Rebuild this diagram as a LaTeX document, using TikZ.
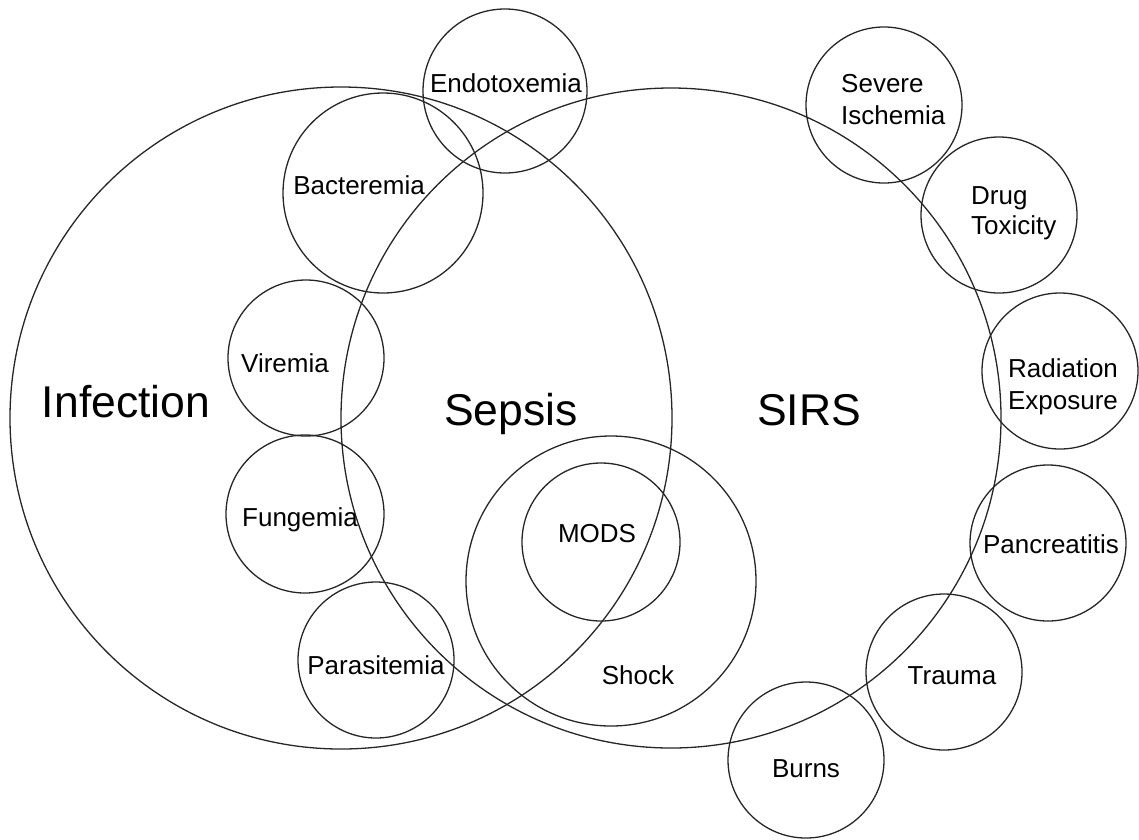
\documentclass[tikz,border=0pt]{standalone}
\usepackage{fontspec}
\setmainfont{Liberation Sans}
\usetikzlibrary{positioning}

\begin{document}
\begin{tikzpicture}[x=1pt, y=-1pt,
    ring/.style={circle, draw=black!85, line width=1.3pt, inner sep=0pt},
    lbl/.style={anchor=base, inner sep=0pt, font=\fontsize{26}{31}\selectfont},
    big/.style={anchor=base, inner sep=0pt, font=\fontsize{44.5}{50}\selectfont}]
    \useasboundingbox (0,0) rectangle (1139,839);
    % the two large sets
    \node[ring, minimum size=662pt] (infection) at (341, 418) {};
    \node[ring, minimum size=660pt] (sirs) at (671, 418) {};
    % infection side
    \node[ring, minimum size=164pt] (endo) at (505, 91) {};
    \node[ring, minimum size=200pt] (bact) at (383, 193) {};
    \node[ring, minimum size=156pt] (vir) at (306, 358) {};
    \node[ring, minimum size=158pt] (fung) at (305, 514) {};
    \node[ring, minimum size=156pt] (para) at (376, 660) {};
    % shock and mods
    \node[ring, minimum size=290pt] (shock) at (611, 581) {};
    \node[ring, minimum size=158pt] (mods) at (601, 542) {};
    % sirs side
    \node[ring, minimum size=156pt] (isch) at (884, 105) {};
    \node[ring, minimum size=156pt] (drug) at (999, 215) {};
    \node[ring, minimum size=156pt] (rad) at (1060, 371) {};
    \node[ring, minimum size=156pt] (panc) at (1048, 543) {};
    \node[ring, minimum size=156pt] (trauma) at (944, 672) {};
    \node[ring, minimum size=156pt] (burns) at (806, 760) {};
    % labels
    \node[big] (infection-t) at (126, 417) {Infection};
    \node[big] (sepsis-t) at (511, 425) {Sepsis};
    \node[big] (sirs-t) at (809, 425) {SIRS};
    \node[lbl] (endo-t) at (506, 92) {Endotoxemia};
    \node[lbl] (bact-t) at (359, 194) {Bacteremia};
    \node[lbl] (vir-t) at (285, 372) {Viremia};
    \node[lbl] (fung-t) at (300, 526) {Fungemia};
    \node[lbl] (para-t) at (376, 674) {Parasitemia};
    \node[lbl] (mods-t) at (597, 542) {MODS};
    \node[lbl] (shock-t) at (638, 684) {Shock};
    \node[lbl, anchor=base west] (isch-t1) at (841, 92) {Severe};
    \node[lbl, anchor=base west] (isch-t2) at (841, 124) {Ischemia};
    \node[lbl, anchor=base west] (drug-t1) at (971, 204) {Drug};
    \node[lbl, anchor=base west] (drug-t2) at (971, 234) {Toxicity};
    \node[lbl] (rad-t1) at (1063, 377) {Radiation};
    \node[lbl] (rad-t2) at (1063, 409) {Exposure};
    \node[lbl] (panc-t) at (1051, 553) {Pancreatitis};
    \node[lbl] (trauma-t) at (952, 684) {Trauma};
    \node[lbl] (burns-t) at (806, 777) {Burns};
\end{tikzpicture}
\end{document}
